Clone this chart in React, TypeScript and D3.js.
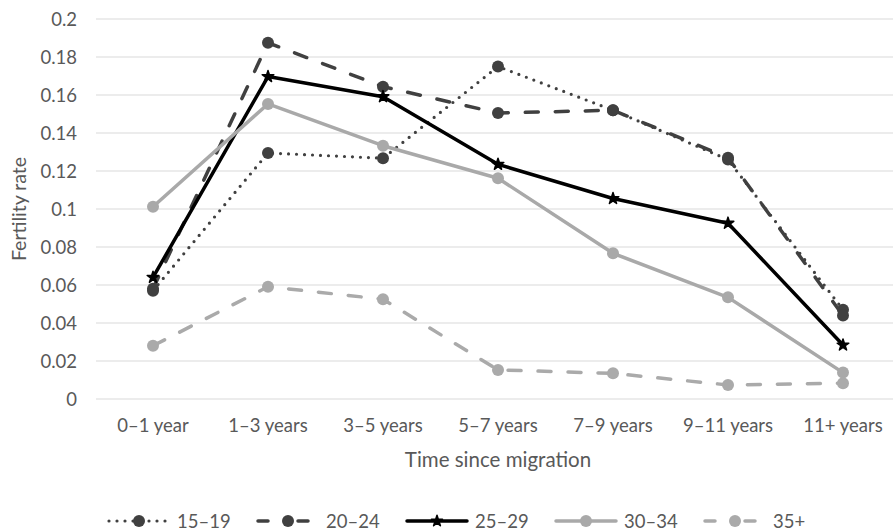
import React from "react";
import * as d3 from "d3";

const categories = ["0–1 year", "1–3 years", "3–5 years", "5–7 years", "7–9 years", "9–11 years", "11+ years"];
const yTicks = [0, 0.02, 0.04, 0.06, 0.08, 0.1, 0.12, 0.14, 0.16, 0.18, 0.2];

const s15_19 = [0.057, 0.1295, 0.1267, 0.175, 0.152, 0.126, 0.047];
const s20_24 = [0.058, 0.1875, 0.1644, 0.1505, 0.152, 0.127, 0.044];
const s25_29 = [0.064, 0.1697, 0.1591, 0.1235, 0.1055, 0.0925, 0.0284];
const s30_34 = [0.1012, 0.1553, 0.1333, 0.1162, 0.0767, 0.0535, 0.0139];
const s35p = [0.028, 0.0591, 0.0525, 0.0153, 0.0135, 0.0074, 0.0083];

const seriesNames = ["15–19", "20–24", "25–29", "30–34", "35+"];

const W = 893;
const H = 532;
const FONT = "Lato, 'Open Sans', sans-serif";
const TEXT = "#595959";

type Style = { color: string; dash: string; width: number; cap: "round" | "butt"; marker: "circle" | "star" };

const styles: Style[] = [
  { color: "#404040", dash: "0 8", width: 3.2, cap: "round", marker: "circle" },
  { color: "#404040", dash: "13 17", width: 3.5, cap: "round", marker: "circle" },
  { color: "#000000", dash: "", width: 3.5, cap: "round", marker: "star" },
  { color: "#a9a9a9", dash: "", width: 3.5, cap: "round", marker: "circle" },
  { color: "#aaaaaa", dash: "13 17", width: 3.5, cap: "round", marker: "circle" },
];

const allSeries = [s15_19, s20_24, s25_29, s30_34, s35p];

export default function App() {
  const x = d3.scalePoint<string>().domain(categories).range([153, 843]);
  const y = d3.scaleLinear().domain([0, 0.2]).range([399, 19]);
  const line = d3
    .line<number>()
    .x((_, i) => x(categories[i]) as number)
    .y((d) => y(d));
  const star = d3.symbol().type(d3.symbolStar).size(42);
  const starSmall = d3.symbol().type(d3.symbolStar).size(38);

  const legendX = (i: number) => 177 + i * 149;
  const legendY = 521;

  const marker = (st: Style, cx: number, cy: number, key: string, small = false) =>
    st.marker === "circle" ? (
      <circle key={key} cx={cx} cy={cy} r={6} fill={st.color} />
    ) : (
      <path key={key} d={(small ? starSmall : star)() as string} transform={`translate(${cx},${cy})`} fill={st.color} stroke={st.color} strokeWidth={1.5} strokeLinejoin="round" />
    );

  return (
    <svg width={W} height={H} style={{ position: "absolute", left: 0, top: 0, background: "#fff" }} fontFamily={FONT}>
      {yTicks.map((t) => (
        <line key={"g" + t} x1={96} x2={W} y1={y(t)} y2={y(t)} stroke="#d9d9d9" strokeWidth={1} />
      ))}
      {yTicks.map((t) => (
        <text key={"yt" + t} x={77} y={y(t)} dy="0.36em" textAnchor="end" fontSize={18.5} fill={TEXT}>
          {String(t)}
        </text>
      ))}
      {categories.map((c) => (
        <text key={"xt" + c} x={x(c)} y={432} textAnchor="middle" fontSize={18.5} fill={TEXT}>
          {c}
        </text>
      ))}
      <text x={498} y={467} textAnchor="middle" fontSize={20.5} fill={TEXT}>
        Time since migration
      </text>
      <text transform={`translate(26,209) rotate(-90)`} textAnchor="middle" fontSize={19.5} fill={TEXT}>
        Fertility rate
      </text>
      {allSeries.map((s, i) => {
        const st = styles[i];
        return (
          <g key={"s" + i}>
            <path d={line(s) as string} fill="none" stroke={st.color} strokeWidth={st.width} strokeDasharray={st.dash || undefined} strokeLinecap={st.cap} strokeLinejoin="round" />
            {s.map((v, j) => marker(st, x(categories[j]) as number, y(v), "m" + i + "-" + j))}
          </g>
        );
      })}
      {seriesNames.map((n, i) => {
        const st = styles[i];
        const tx = legendX(i);
        const mx = tx - 38;
        return (
          <g key={"l" + i}>
            <line x1={tx - 68} x2={tx - 8} y1={legendY} y2={legendY} stroke={st.color} strokeWidth={st.width} strokeDasharray={st.dash ? (i === 0 ? "0 8" : "10 30") : undefined} strokeLinecap={st.cap} />
            {marker(st, mx, legendY, "lm" + i, true)}
            <text x={tx} y={legendY} dy="0.36em" fontSize={18.5} fill={TEXT}>
              {n}
            </text>
          </g>
        );
      })}
    </svg>
  );
}
